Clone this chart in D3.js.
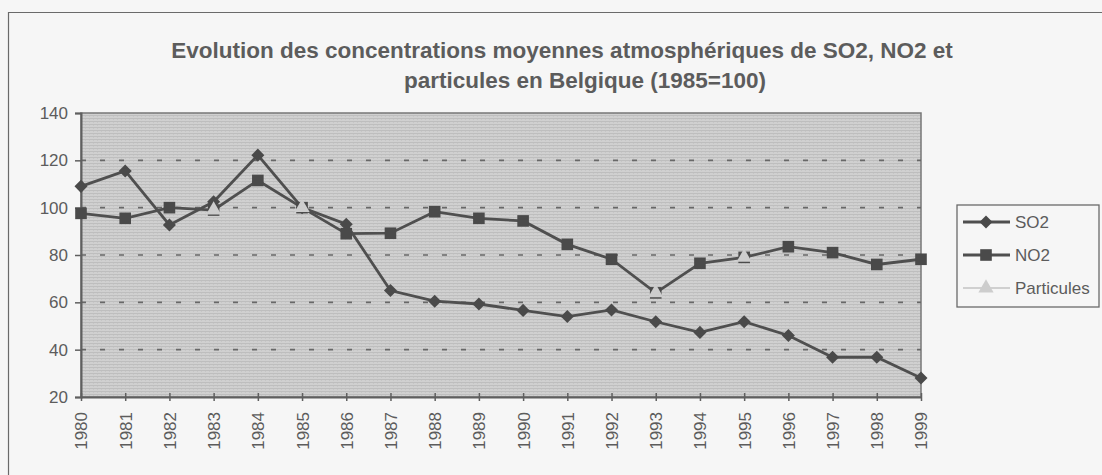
<!DOCTYPE html>
<html>
<head>
<meta charset="utf-8">
<script src="https://cdn.jsdelivr.net/npm/d3@7"></script>
<style>
  html, body { margin: 0; padding: 0; background: #f6f6f6; }
  svg { display: block; }
</style>
</head>
<body>
<svg id="chart"></svg>
<script>
// Evolution des concentrations (indice 1985=100)
const years = [1980, 1981, 1982, 1983, 1984, 1985, 1986, 1987, 1988, 1989,
               1990, 1991, 1992, 1993, 1994, 1995, 1996, 1997, 1998, 1999];
const so2 = [109, 115.5, 92.7, 102.5, 122.2, 100, 93, 65, 60.5, 59.3,
             56.6, 54, 56.8, 51.8, 47.3, 51.8, 46, 36.8, 36.8, 28];
const no2 = [97.6, 95.5, 100, 99, 111.5, 100, 89, 89.2, 98.3, 95.5,
             94.4, 84.5, 78.2, 64, 76.5, 79, 83.5, 81, 76, 78.2];
// seulement visible là où les triangles recouvrent les carrés
const particules = [null, null, null, 99, null, 100, null, null, null, null,
                    null, null, null, 64, null, 79, null, null, null, null];
const yTicks = [20, 40, 60, 80, 100, 120, 140];
const titleLines = [
  'Evolution des concentrations moyennes atmosphériques de SO2, NO2 et',
  'particules en Belgique (1985=100)'
];
const legendItems = ['SO2', 'NO2', 'Particules'];

const W = 1102, H = 475;
const plot = { left: 81, right: 921, top: 113, bottom: 397 };
const ink = '#5c5c5c';
const lineCol = '#4f4f4f';
const font = 'Liberation Sans, Arial, sans-serif';

const svg = d3.select('#chart').attr('width', W).attr('height', H);

// texture grise de la zone de tracé
const defs = svg.append('defs');
const pat = defs.append('pattern').attr('id', 'scan')
  .attr('patternUnits', 'userSpaceOnUse').attr('width', 4).attr('height', 3);
pat.append('rect').attr('width', 4).attr('height', 3).attr('fill', '#d0d0d0');
pat.append('rect').attr('y', 1).attr('width', 4).attr('height', 1).attr('fill', '#bebebe');
pat.append('rect').attr('x', 1).attr('y', 2).attr('width', 1).attr('height', 1).attr('fill', '#c6c6c6');

// cadre extérieur
svg.append('rect').attr('width', W).attr('height', H).attr('fill', '#f6f6f6');
svg.append('path')
  .attr('d', `M8.5,${H} V12.5 H${W}`)
  .attr('fill', 'none').attr('stroke', '#6a6a6a').attr('stroke-width', 1.2);

// titre
const titleX = [562, 585];
titleLines.forEach((t, i) => {
  svg.append('text')
    .attr('x', titleX[i]).attr('y', 58 + i * 30)
    .attr('text-anchor', 'middle')
    .attr('font-family', font).attr('font-weight', 'bold')
    .attr('font-size', '22.5px').attr('fill', ink)
    .text(t);
});

const x = d3.scalePoint().domain(years).range([plot.left, plot.right]);
const y = d3.scaleLinear().domain([20, 140]).range([plot.bottom, plot.top]);

svg.append('rect')
  .attr('x', plot.left).attr('y', plot.top)
  .attr('width', plot.right - plot.left).attr('height', plot.bottom - plot.top)
  .attr('fill', 'url(#scan)')
  .attr('stroke', '#777').attr('stroke-width', 1.5);

// quadrillage pointillé
svg.append('g').selectAll('line')
  .data(yTicks.filter(v => v > 20 && v < 140))
  .join('line')
  .attr('x1', plot.left).attr('x2', plot.right)
  .attr('y1', d => y(d)).attr('y2', d => y(d))
  .attr('stroke', '#686868').attr('stroke-width', 1.6)
  .attr('stroke-dasharray', '5,14');

// axe Y
const yAxis = svg.append('g')
  .attr('transform', `translate(${plot.left},0)`)
  .call(d3.axisLeft(y).tickValues(yTicks).tickSize(6).tickPadding(7));
yAxis.select('.domain').attr('stroke', '#5f5f5f').attr('stroke-width', 2);
yAxis.selectAll('line').attr('stroke', '#5f5f5f').attr('stroke-width', 1.5);
yAxis.selectAll('text')
  .attr('font-family', font).attr('font-size', '17px').attr('fill', ink);

// axe X
const xAxis = svg.append('g')
  .attr('transform', `translate(0,${plot.bottom})`)
  .call(d3.axisBottom(x).tickSize(4).tickPadding(8).tickSizeOuter(0));
xAxis.select('.domain').attr('stroke', '#5f5f5f').attr('stroke-width', 2.2);
xAxis.selectAll('.tick line')
  .attr('y1', -4).attr('stroke', '#5f5f5f').attr('stroke-width', 1.5);
xAxis.selectAll('text')
  .attr('font-family', font).attr('font-size', '17px').attr('fill', ink)
  .attr('transform', 'rotate(-90)')
  .attr('text-anchor', 'end')
  .attr('dy', '0.35em')
  .attr('x', -15).attr('y', 0);

const line = d3.line()
  .defined(d => d[1] != null)
  .x(d => x(d[0])).y(d => y(d[1]));

// losange = carré tourné de 45°
const diamond = d3.symbol().type(d3.symbolSquare).size(85);
const square = d3.symbol().type(d3.symbolSquare).size(135);
const triangle = d3.symbol().type(d3.symbolTriangle).size(100);

const series = [
  { name: 'SO2', values: so2, color: lineCol, stroke: 2.8, sym: diamond, rot: 45, fill: '#4a4a4a' },
  { name: 'NO2', values: no2, color: lineCol, stroke: 2.8, sym: square, rot: 0, fill: '#4a4a4a' },
  { name: 'Particules', values: particules, color: '#d0d0d0', stroke: 2, sym: triangle, rot: 0, fill: '#cdcdcd' }
];

series.forEach(s => {
  const pts = years.map((yr, i) => [yr, s.values[i]]);
  svg.append('path')
    .datum(pts)
    .attr('d', line)
    .attr('fill', 'none')
    .attr('stroke', s.color).attr('stroke-width', s.stroke);
  svg.append('g').selectAll('path')
    .data(pts.filter(d => d[1] != null))
    .join('path')
    .attr('transform', d => `translate(${x(d[0])},${y(d[1])}) rotate(${s.rot})`)
    .attr('d', s.sym)
    .attr('fill', s.fill);
});

// légende
const lg = svg.append('g').attr('transform', 'translate(957,205)');
lg.append('rect')
  .attr('width', 142).attr('height', 102)
  .attr('fill', '#f6f6f6').attr('stroke', '#6a6a6a').attr('stroke-width', 1.3);
legendItems.forEach((name, i) => {
  const s = series[i];
  const cy = 17 + i * 33;
  lg.append('line')
    .attr('x1', 6).attr('x2', 53).attr('y1', cy).attr('y2', cy)
    .attr('stroke', s.color).attr('stroke-width', s.stroke);
  lg.append('path')
    .attr('transform', `translate(29,${cy}) rotate(${s.rot})`)
    .attr('d', s.sym)
    .attr('fill', s.fill);
  lg.append('text')
    .attr('x', 58).attr('y', cy).attr('dy', '0.35em')
    .attr('font-family', font).attr('font-size', '17px').attr('fill', ink)
    .text(name);
});
</script>
</body>
</html>
